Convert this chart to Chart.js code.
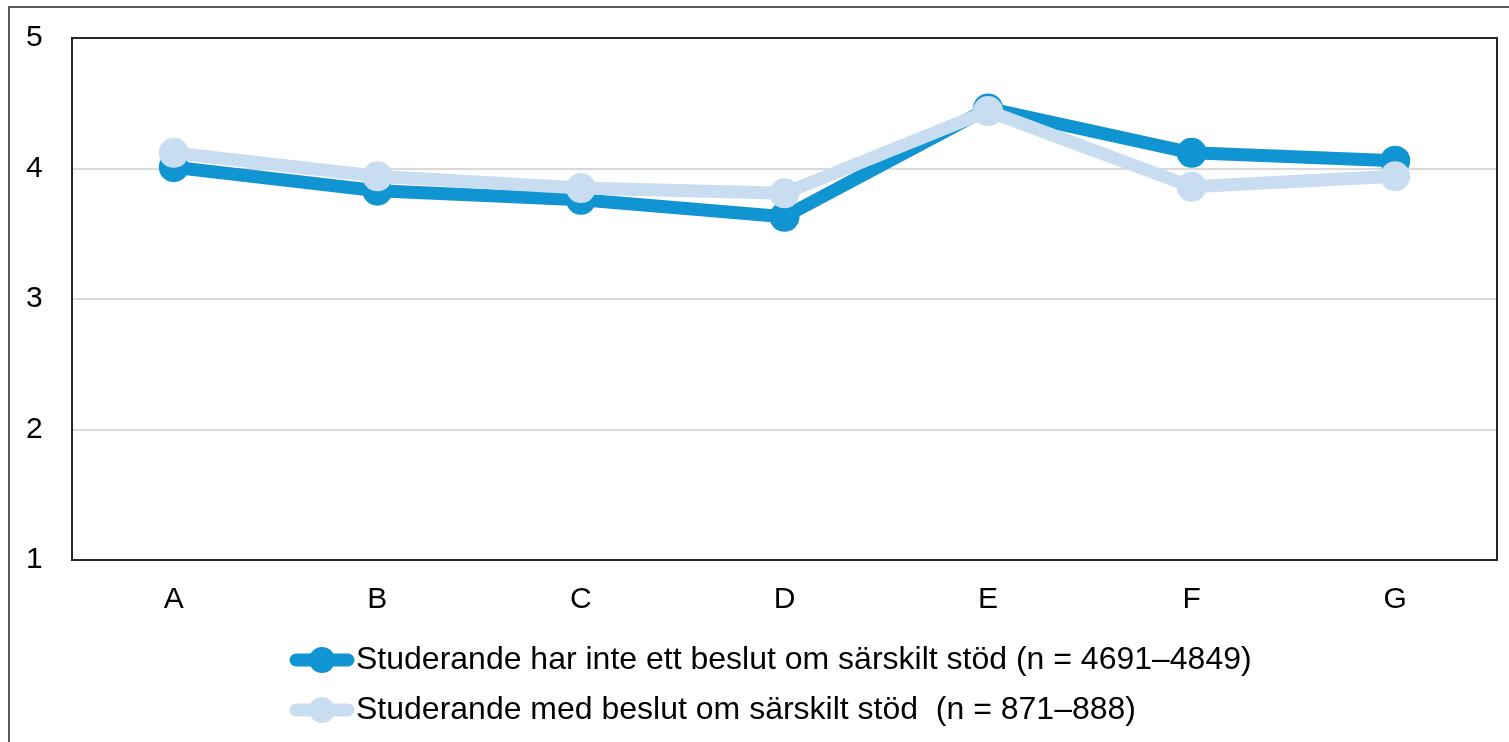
<!DOCTYPE html>
<html>
<head>
<meta charset="utf-8">
<script src="https://cdn.jsdelivr.net/npm/chart.js@4"></script>
<style>
  html, body { margin: 0; padding: 0; background: #fff; overflow: hidden; }
  #wrap { position: relative; width: 1509px; height: 742px; }
  #frame { position: absolute; left: 8px; top: 6px; width: 1520px; height: 760px; border: 2px solid #595959; box-sizing: border-box; }
  canvas { position: absolute; left: 0; top: 0; }
</style>
</head>
<body>
<div id="wrap">
  <div id="frame"></div>
  <canvas id="chart" width="1509" height="742"></canvas>
</div>
<script>
const categories = ['A', 'B', 'C', 'D', 'E', 'F', 'G'];
const withoutSupport = [4.01, 3.83, 3.76, 3.63, 4.46, 4.12, 4.06];
const withSupport = [4.12, 3.94, 3.85, 3.81, 4.44, 3.86, 3.94];
const seriesNames = [
  'Studerande har inte ett beslut om särskilt stöd (n = 4691–4849)',
  'Studerande med beslut om särskilt stöd  (n = 871–888)'
];
const yTicks = [1, 2, 3, 4, 5];

const darkBlue = '#1094d2';
const lightBlue = '#c9ddf1';

// legend icon: thick line with a dot in the middle
function makeIcon(color) {
  const c = document.createElement('canvas');
  c.width = 66;
  c.height = 30;
  const g = c.getContext('2d');
  g.strokeStyle = color;
  g.lineWidth = 13;
  g.lineCap = 'round';
  g.beginPath();
  g.moveTo(7, 15);
  g.lineTo(59, 15);
  g.stroke();
  g.fillStyle = color;
  g.beginPath();
  g.arc(33, 15, 13, 0, Math.PI * 2);
  g.fill();
  return c;
}
const icons = [makeIcon(darkBlue), makeIcon(lightBlue)];

const plotFrame = {
  id: 'plotFrame',
  beforeDatasetsDraw(chart) {
    const a = chart.chartArea;
    const ctx = chart.ctx;
    ctx.save();
    ctx.strokeStyle = '#262626';
    ctx.lineWidth = 2;
    ctx.strokeRect(a.left, a.top, a.right - a.left, a.bottom - a.top);
    ctx.restore();
  }
};

const legendLeft = {
  id: 'legendLeft',
  afterLayout(chart) {
    chart.legend.left = 286;
  }
};

const ctx = document.getElementById('chart').getContext('2d');
new Chart(ctx, {
  type: 'line',
  data: {
    labels: categories,
    datasets: [{
      label: seriesNames[0],
      data: withoutSupport,
      borderColor: darkBlue,
      backgroundColor: darkBlue,
      borderWidth: 13,
      borderJoinStyle: 'round',
      borderCapStyle: 'round',
      pointRadius: 15,
      pointBorderWidth: 0,
      pointBackgroundColor: darkBlue,
      order: 1
    }, {
      label: seriesNames[1],
      data: withSupport,
      borderColor: lightBlue,
      backgroundColor: lightBlue,
      borderWidth: 13,
      borderJoinStyle: 'round',
      borderCapStyle: 'round',
      pointRadius: 15,
      pointBorderWidth: 0,
      pointBackgroundColor: lightBlue,
      order: 0
    }]
  },
  options: {
    responsive: false,
    animation: false,
    layout: { autoPadding: false, padding: { left: 26, right: 12, top: 38, bottom: 6 } },
    scales: {
      x: {
        offset: true,
        grid: { display: false, drawTicks: false },
        border: { display: false },
        ticks: {
          padding: 22,
          color: '#000',
          font: { family: "'Liberation Sans', Arial, sans-serif", size: 30 }
        },
        afterFit(scale) { scale.height = 66; }
      },
      y: {
        min: 1,
        max: 5,
        afterBuildTicks(scale) { scale.ticks = yTicks.map(v => ({ value: v })); },
        grid: { color: '#d9d9d9', lineWidth: 2, drawTicks: false },
        border: { display: false },
        ticks: {
          padding: 0,
          crossAlign: 'far',
          color: '#000',
          font: { family: "'Liberation Sans', Arial, sans-serif", size: 30 }
        },
        afterFit(scale) { scale.width = 46; }
      }
    },
    plugins: {
      tooltip: { enabled: false },
      legend: {
        position: 'bottom',
        align: 'start',
        labels: {
          usePointStyle: true,
          pointStyleWidth: 36,
          padding: 18,
          color: '#000',
          font: { family: "'Liberation Sans', Arial, sans-serif", size: 32 },
          sort: (a, b) => a.datasetIndex - b.datasetIndex,
          generateLabels(chart) {
            const items = Chart.defaults.plugins.legend.labels.generateLabels(chart);
            items.forEach(it => { it.pointStyle = icons[it.datasetIndex]; });
            return items;
          }
        }
      }
    }
  },
  plugins: [plotFrame, legendLeft]
});
</script>
</body>
</html>
